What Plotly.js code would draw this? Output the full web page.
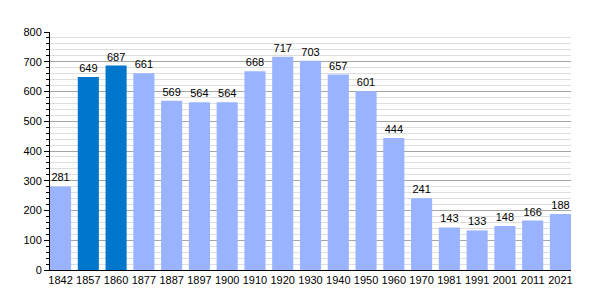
<!DOCTYPE html>
<html><head><meta charset="utf-8">
<script src="https://cdn.plot.ly/plotly-3.0.1.min.js"></script>
<style>html,body{margin:0;padding:0;background:#fff}#c{width:600px;height:300px}</style>
</head><body><div id="c"></div>
<script>
const years = ["1842","1857","1860","1877","1887","1897","1900","1910","1920","1930","1940","1950","1960","1970","1981","1991","2001","2011","2021"];
const population = [281,649,687,661,569,564,564,668,717,703,657,601,444,241,143,133,148,166,188];
const highlighted = ["1857","1860"];
const yTicks = [0,100,200,300,400,500,600,700,800];

const colors = years.map(y => highlighted.includes(y) ? "#0077cc" : "#99b3ff");
const gap = 0.24;

Plotly.newPlot("c", [{
  type: "bar",
  x: years,
  y: population,
  text: population.map(String),
  textposition: "outside",
  cliponaxis: false,
  textfont: {family: "Liberation Sans, Arial, sans-serif", size: 11, color: "#000"},
  marker: {color: colors, line: {width: 0}},
  hoverinfo: "none"
}], {
  width: 600, height: 300,
  margin: {l: 50, r: 29, t: 32, b: 30, pad: 0},
  paper_bgcolor: "#fff", plot_bgcolor: "#fff",
  bargap: gap,
  showlegend: false,
  font: {family: "Liberation Sans, Arial, sans-serif", size: 11, color: "#000"},
  xaxis: {
    type: "category",
    range: [-0.5 + gap / 2, years.length - 0.5 - gap / 2],
    showline: true, linecolor: "#000", linewidth: 1,
    ticks: "", showgrid: false, zeroline: false,
    tickfont: {size: 11, color: "#000"}
  },
  yaxis: {
    range: [0, 800],
    tickvals: yTicks,
    showline: true, linecolor: "#000", linewidth: 1,
    ticks: "outside", ticklen: 5, tickcolor: "#000",
    showgrid: true, gridcolor: "#a6a6a6", gridwidth: 1,
    zeroline: false,
    tickfont: {size: 11, color: "#000"},
    minor: {dtick: 20, showgrid: true, gridcolor: "#dedede", gridwidth: 1, ticks: "outside", ticklen: 3, tickcolor: "#000"}
  }
}, {staticPlot: true, displayModeBar: false});
</script>
</body></html>
